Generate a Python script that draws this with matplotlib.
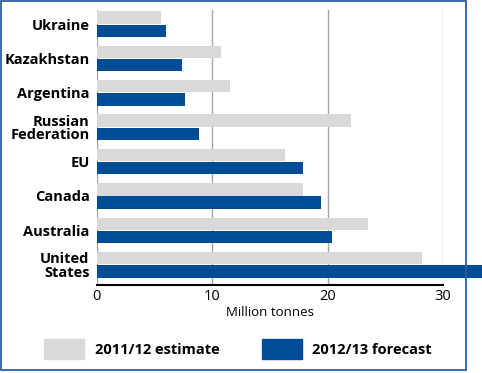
import matplotlib
matplotlib.use("Agg")
import matplotlib.pyplot as plt
from matplotlib.patches import Rectangle, Patch

# Data (million tonnes)
countries = ["Ukraine", "Kazakhstan", "Argentina", "Russian\nFederation",
             "EU", "Canada", "Australia", "United\nStates"]
estimate_2011 = [5.6, 10.8, 11.6, 22.0, 16.3, 17.9, 23.5, 28.2]
forecast_2012 = [6.0, 7.4, 7.7, 8.9, 17.9, 19.4, 20.4, 34.0]
xticks = [0, 10, 20, 30]

grey = "#d9d9d9"
blue = "#004c97"
frame_blue = "#2b5f9e"

plt.rcParams['font.family'] = ['Open Sans', 'DejaVu Sans']

fig = plt.figure(figsize=(4.82, 3.73), dpi=100)
ax = fig.add_axes([96.5 / 482, 88 / 373, 346.5 / 482, 275 / 373])

h = 0.385
y = list(range(len(countries)))
ax.barh([i - h / 2 for i in y], estimate_2011, height=h - 0.025,
        color=grey, zorder=3, clip_on=False)
ax.barh([i + h / 2 for i in y], forecast_2012, height=h - 0.025,
        color=blue, zorder=3, clip_on=False)

ax.set_xlim(0, 30)
ax.set_ylim(7.59, -0.41)
ax.set_xticks(xticks)
ax.set_xticklabels([str(t) for t in xticks], fontsize=10.5)
ax.set_yticks(y)
ax.set_yticklabels(countries, fontsize=10.5, fontweight='bold',
                   linespacing=0.95)
ax.tick_params(length=0, pad=3)
ax.tick_params(axis='y', pad=5)

for t in xticks:
    ax.axvline(t, color="#a6a6a6", lw=1, zorder=1)

for s in ["top", "right", "left"]:
    ax.spines[s].set_visible(False)
ax.spines["bottom"].set_color("black")
ax.spines["bottom"].set_linewidth(1.5)
ax.spines["bottom"].set_zorder(4)

ax.set_xlabel("Million tonnes", fontsize=9.5, labelpad=1)

# Legend
handles = [Patch(color=grey, label="2011/12 estimate"),
           Patch(color=blue, label="2012/13 forecast")]
fig.legend(handles=handles, loc="center", bbox_to_anchor=(238 / 482, 1 - 349 / 373),
           ncol=2, frameon=False, handlelength=2.75, handleheight=1.8,
           columnspacing=2.9, handletextpad=0.7,
           prop={'weight': 'bold', 'size': 10.5})

# Outer frame
fig.patches.append(Rectangle((1 / 482, 3 / 373), 465 / 482, 369 / 373,
                             transform=fig.transFigure, fill=False,
                             edgecolor=frame_blue, lw=1.3, zorder=0))

fig.savefig("out.png", dpi=100)
